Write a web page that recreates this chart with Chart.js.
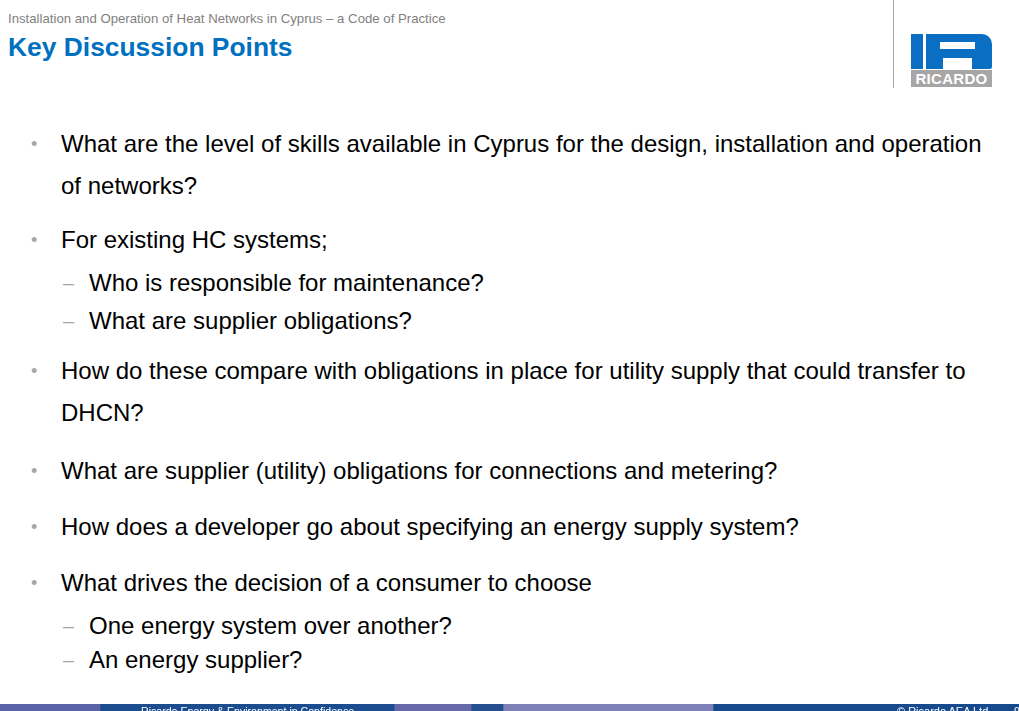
<!DOCTYPE html>
<html>
<head>
<meta charset="utf-8">
<script src="https://cdn.jsdelivr.net/npm/chart.js@4.4.0/dist/chart.umd.min.js"></script>
<style>
  html, body { margin: 0; padding: 0; }
  body { width: 1019px; height: 711px; overflow: hidden; position: relative; background: #fff;
         font-family: "Liberation Sans", Arial, sans-serif; }
  .t { position: absolute; white-space: nowrap; line-height: 28px; }
  .sup { font-size: 13.2px; color: #7f7f7f; left: 8px; top: 10px; line-height: 18px; }
  .title { font-size: 26.4px; font-weight: bold; color: #0070c0; left: 8px; top: 32px; line-height: 30px; }
  .line { font-size: 24px; color: #000; }
  .bullet { position: absolute; color: #a6a6a6; font-size: 18px; line-height: 28px; }
  .dash { position: absolute; color: #a6a6a6; font-size: 20px; line-height: 28px; }
  .vline { position: absolute; left: 893px; top: 0; width: 1px; height: 88px; background: #a6a6a6; }
  .logo { position: absolute; left: 911px; top: 34px; width: 81px; height: 53px; }
  .logo div { position: absolute; }
  #footWrap { position: absolute; left: 0; top: 704px; width: 1019px; height: 16px; }
  .foot { position: absolute; color: #fff; font-size: 10.6px; line-height: 12px; top: 705px; white-space: nowrap; }
</style>
</head>
<body>
<div class="t sup">Installation and Operation of Heat Networks in Cyprus – a Code of Practice</div>
<div class="t title">Key Discussion Points</div>
<div class="vline"></div>
<div class="logo">
  <div style="left:0;top:0;width:12px;height:35px;background:#0a6fc2"></div>
  <div style="left:15px;top:0;width:66px;height:35px;background:#0a6fc2;border-top-right-radius:10px;border-bottom-right-radius:2px"></div>
  <div style="left:29px;top:8px;width:35px;height:7px;background:#fff"></div>
  <div style="left:32px;top:24px;width:29px;height:11px;background:#fff"></div>
  <div style="left:0;top:36px;width:81px;height:17px;background:#a6a6a6;color:#fff;font-weight:bold;font-size:15px;line-height:17px;text-align:center;letter-spacing:0.3px">RICARDO</div>
</div>
<div id="body"></div>
<div id="footWrap"><canvas id="footer"></canvas></div>
<div class="foot" style="left:141px">Ricardo Energy &amp; Environment in Confidence</div>
<div class="foot" style="left:897px;font-size:11px">© Ricardo AEA Ltd</div>
<div class="foot" style="left:1014px">9</div>
<script>
// slide lines: level (0 = continuation, 1 = bullet, 2 = sub-point), text, y centre
const lineLevels = [1, 0, 1, 2, 2, 1, 0, 1, 1, 1, 2, 2];
const lineTexts = [
  "What are the level of skills available in Cyprus for the design, installation and operation",
  "of networks?",
  "For existing HC systems;",
  "Who is responsible for maintenance?",
  "What are supplier obligations?",
  "How do these compare with obligations in place for utility supply that could transfer to",
  "DHCN?",
  "What are supplier (utility) obligations for connections and metering?",
  "How does a developer go about specifying an energy supply system?",
  "What drives the decision of a consumer to choose",
  "One energy system over another?",
  "An energy supplier?"
];
const lineY = [144, 186, 240, 283, 321, 371, 413, 471, 527, 583, 626, 660];

const holder = document.getElementById("body");
lineTexts.forEach(function(txt, i) {
  const lvl = lineLevels[i];
  const d = document.createElement("div");
  d.className = "t line";
  d.textContent = txt;
  d.style.left = (lvl === 2 ? 89 : 61) + "px";
  d.style.top = (lineY[i] - 14) + "px";
  holder.appendChild(d);
  if (lvl === 1) {
    const b = document.createElement("div");
    b.className = "bullet";
    b.textContent = "•";
    b.style.left = "31px";
    b.style.top = (lineY[i] - 14) + "px";
    holder.appendChild(b);
  } else if (lvl === 2) {
    const m = document.createElement("div");
    m.className = "dash";
    m.textContent = "–";
    m.style.left = "63px";
    m.style.top = (lineY[i] - 14) + "px";
    holder.appendChild(m);
  }
});

// footer band segments (pixel widths along the slide)
const footerWidths = [100, 294, 77, 32, 210, 306];
const footerColors = ["#5b62a6", "#1b4c8e", "#6569a9", "#264f90", "#7e80b8", "#174a8c"];

new Chart(document.getElementById("footer"), {
  type: 'bar',
  data: {
    labels: ["band"],
    datasets: footerWidths.map(function(w, i) {
      return { data: [w], backgroundColor: footerColors[i], borderWidth: 0,
               barPercentage: 1, categoryPercentage: 1 };
    })
  },
  options: {
    indexAxis: 'y',
    responsive: true,
    maintainAspectRatio: false,
    animation: false,
    layout: { padding: 0 },
    plugins: { legend: { display: false }, tooltip: { enabled: false } },
    scales: {
      x: { stacked: true, display: false, min: 0, max: 1019 },
      y: { stacked: true, display: false }
    }
  }
});
</script>
</body>
</html>
